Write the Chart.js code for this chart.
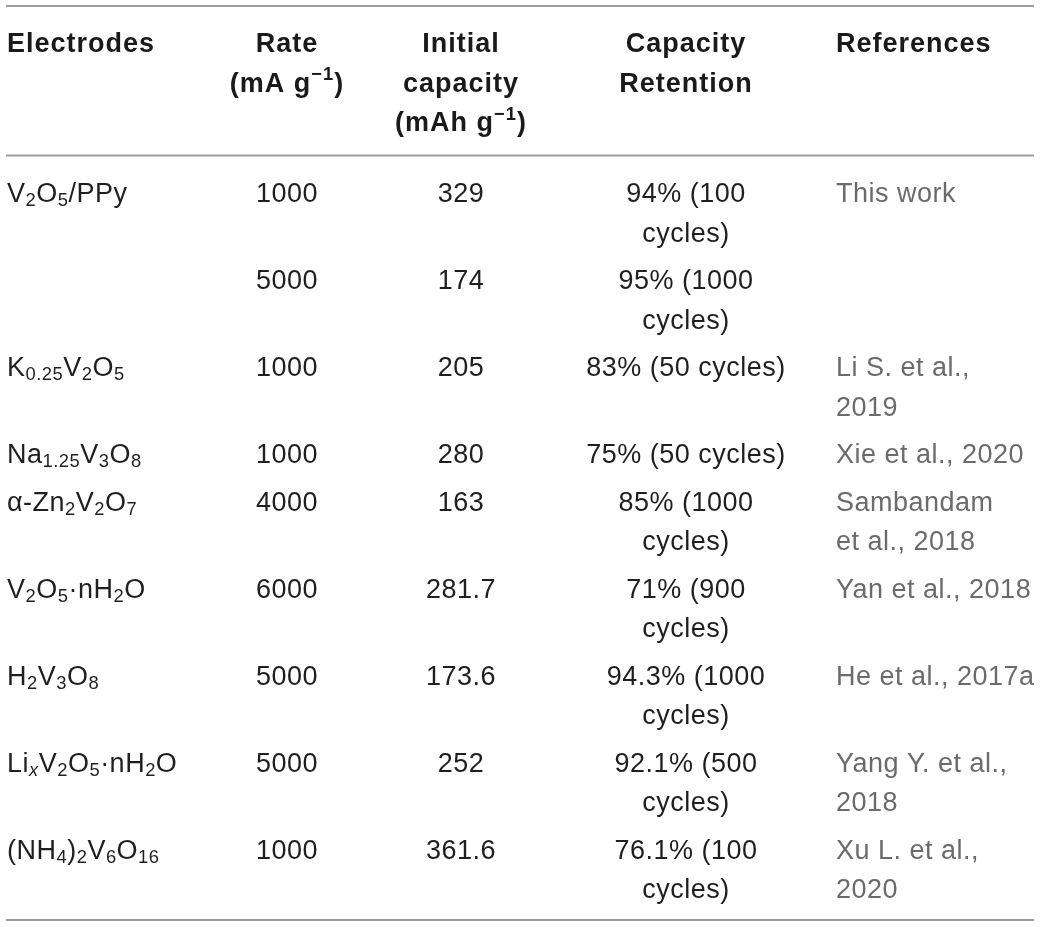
<!DOCTYPE html>
<html lang="en">
<head>
<meta charset="UTF-8" />
<title>Zn-ion cathode comparison</title>
<script src="https://cdn.jsdelivr.net/npm/chart.js@4.4.0/dist/chart.umd.min.js"></script>
<style>
  html, body { margin: 0; padding: 0; background: #fff; }
  #wrap { width: 1040px; height: 927px; }
</style>
</head>
<body>
<div id="wrap"><canvas id="tbl" width="1040" height="927"></canvas></div>
<script>
// markup: _{..} subscript, ^{..} superscript, a leading * inside braces = italic
const headers = [
  ["Electrodes"],
  ["Rate", "(mA g^{−1})"],
  ["Initial", "capacity", "(mAh g^{−1})"],
  ["Capacity", "Retention"],
  ["References"],
];
const electrodes = [
  "V_{2}O_{5}/PPy", "", "K_{0.25}V_{2}O_{5}", "Na_{1.25}V_{3}O_{8}",
  "α-Zn_{2}V_{2}O_{7}", "V_{2}O_{5}·nH_{2}O", "H_{2}V_{3}O_{8}",
  "Li_{*x}V_{2}O_{5}·nH_{2}O", "(NH_{4})_{2}V_{6}O_{16}",
];
const rates = [1000, 5000, 1000, 1000, 4000, 6000, 5000, 5000, 1000];
const initialCapacity = [329, 174, 205, 280, 163, 281.7, 173.6, 252, 361.6];
const retention = [
  "94% (100\ncycles)", "95% (1000\ncycles)", "83% (50 cycles)", "75% (50 cycles)",
  "85% (1000\ncycles)", "71% (900\ncycles)", "94.3% (1000\ncycles)",
  "92.1% (500\ncycles)", "76.1% (100\ncycles)",
];
const references = [
  "This work", "", "Li S. et al.,\n2019", "Xie et al., 2020", "Sambandam\net al., 2018",
  "Yan et al., 2018", "He et al., 2017a", "Yang Y. et al.,\n2018", "Xu L. et al.,\n2020",
];

// layout (canvas px)
const W = 1040, H = 927;
const FAMILY = '"Liberation Sans", Arial, sans-serif';
const SIZE = 27;
const L = { left: 6, right: 1034, top: 6, headRule: 155.5, bottom: 920,
            headBase: 52, bodyBase: 202, lineH: 39.5, rowPad: 8 };
const columns = [
  { x: 7,   align: "left",   color: "#1f1f1f" },
  { x: 287, align: "center", color: "#1f1f1f" },
  { x: 461, align: "center", color: "#1f1f1f" },
  { x: 686, align: "center", color: "#1f1f1f" },
  { x: 836, align: "left",   color: "#6b6b6b" },
];

const body = [electrodes, rates.map(String), initialCapacity.map(String), retention, references];
const lineCount = electrodes.map((_, r) =>
  Math.max(...body.map(col => col[r].split("\n").length)));
const rowBase = [];
let yy = L.bodyBase;
lineCount.forEach(n => { rowBase.push(yy); yy += n * L.lineH + L.rowPad; });

function parseRich(s) {
  const runs = [];
  const re = /([_^])\{(\*?)([^}]*)\}/g;
  let last = 0, m;
  while ((m = re.exec(s))) {
    if (m.index > last) runs.push({ t: s.slice(last, m.index), k: "" });
    runs.push({ t: m[3], k: m[1], it: m[2] === "*" });
    last = re.lastIndex;
  }
  if (last < s.length) runs.push({ t: s.slice(last), k: "" });
  return runs;
}

function runFont(run, weight) {
  const size = run.k ? SIZE * 0.68 : SIZE;
  return (run.it ? "italic " : "") + weight + " " + size + "px " + FAMILY;
}

function drawRich(ctx, str, x, y, align, weight) {
  const runs = parseRich(str);
  ctx.letterSpacing = weight === "bold" ? "1px" : "0.5px";
  let w = 0;
  runs.forEach(r => { ctx.font = runFont(r, weight); r.w = ctx.measureText(r.t).width; w += r.w; });
  let cx = align === "center" ? x - w / 2 : x;
  runs.forEach(r => {
    ctx.font = runFont(r, weight);
    const dy = r.k === "_" ? SIZE * 0.16 : r.k === "^" ? -SIZE * 0.42 : 0;
    ctx.fillText(r.t, cx, y + dy);
    cx += r.w;
  });
}

const tablePlugin = {
  id: "tableCells",
  beforeDatasetsDraw(chart) {
    const { ctx, scales: { x, y } } = chart;
    ctx.save();
    ctx.strokeStyle = "#9b9b9b";
    ctx.lineWidth = 2;
    [L.top, L.headRule, L.bottom].forEach(v => {
      const py = y.getPixelForValue(v);
      ctx.beginPath();
      ctx.moveTo(x.getPixelForValue(L.left), py);
      ctx.lineTo(x.getPixelForValue(L.right), py);
      ctx.stroke();
    });
    ctx.restore();
  },
  afterDatasetsDraw(chart) {
    const { ctx } = chart;
    ctx.save();
    ctx.textBaseline = "alphabetic";
    ctx.textAlign = "left";
    chart.data.datasets.forEach((ds, di) => {
      const meta = chart.getDatasetMeta(di);
      const col = columns[ds.col];
      const lh = chart.scales.y.getPixelForValue(L.lineH) - chart.scales.y.getPixelForValue(0);
      meta.data.forEach((pt, j) => {
        const text = ds.cells[j];
        ctx.fillStyle = ds.header ? "#1a1a1a" : col.color;
        const lines = Array.isArray(text) ? text : String(text).split("\n");
        lines.forEach((ln, k) => {
          if (ln) drawRich(ctx, ln, pt.x, pt.y + k * lh, col.align, ds.header ? "bold" : "normal");
        });
      });
    });
    ctx.restore();
  },
};

const datasets = [];
columns.forEach((c, ci) => {
  datasets.push({
    label: "header " + ci, header: true, col: ci, cells: [headers[ci]],
    data: [{ x: c.x, y: L.headBase }], pointRadius: 0,
  });
  datasets.push({
    label: "col " + ci, header: false, col: ci, cells: body[ci],
    data: body[ci].map((_, r) => ({ x: c.x, y: rowBase[r] })), pointRadius: 0,
  });
});

new Chart(document.getElementById("tbl"), {
  type: "scatter",
  data: { datasets },
  options: {
    responsive: false,
    maintainAspectRatio: false,
    animation: false,
    events: [],
    layout: { padding: 0 },
    plugins: { legend: { display: false }, tooltip: { enabled: false } },
    scales: {
      x: { type: "linear", min: 0, max: W, display: false },
      y: { type: "linear", min: 0, max: H, reverse: true, display: false },
    },
  },
  plugins: [tablePlugin],
});
</script>
</body>
</html>
